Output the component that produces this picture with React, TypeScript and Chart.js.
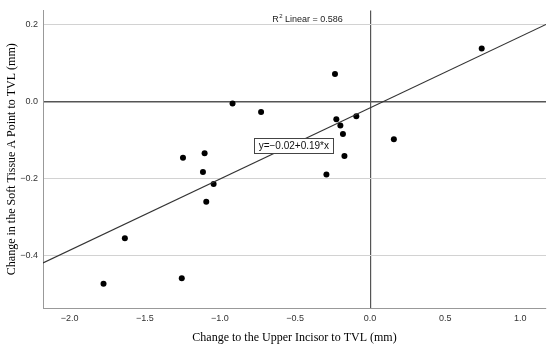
import React, { useEffect, useRef } from 'react';
import { Chart, registerables } from 'chart.js';

Chart.register(...registerables);

// Data
const pointX = [-1.775, -1.633, -1.254, -1.246, -1.102, -1.113, -1.091, -1.042, -0.916, -0.726, -0.291, -0.234, -0.225, -0.198, -0.181, -0.171, -0.092, 0.158, 0.743];
const pointY = [-0.473, -0.355, -0.459, -0.146, -0.134, -0.183, -0.260, -0.214, -0.005, -0.027, -0.189, 0.072, -0.046, -0.062, -0.084, -0.141, -0.038, -0.098, 0.138];
const fitIntercept = -0.016;
const fitSlope = 0.185;
const xTicks = [-2.0, -1.5, -1.0, -0.5, 0.0, 0.5, 1.0];
const yTicks = [-0.4, -0.2, 0.0, 0.2];
const xRange = [-2.178, 1.171];
const yRange = [-0.536, 0.237];
const xTitle = 'Change to the Upper Incisor to TVL (mm)';
const yTitle = 'Change in the Soft Tissue A Point to TVL (mm)';
const fitLabel = 'y=\u22120.02+0.19*x';
const r2Value = '0.586';
const r2LabelPos = { x: -0.652, y: 0.214 };
const fitLabelPos = { x: -0.508, y: -0.115 };

const fmt = (v: number) => v.toFixed(1).replace('-', '\u2212');

const annotationPlugin = {
  id: 'annots',
  afterDatasetsDraw(chart: any) {
    const { ctx, scales } = chart;
    const xs = scales.x;
    const ys = scales.y;
    ctx.save();
    // R² label
    let px = xs.getPixelForValue(r2LabelPos.x);
    const py = ys.getPixelForValue(r2LabelPos.y);
    ctx.fillStyle = '#222';
    ctx.textBaseline = 'middle';
    ctx.textAlign = 'left';
    ctx.font = '9px "Liberation Sans", Arial, sans-serif';
    ctx.fillText('R', px, py);
    px += ctx.measureText('R').width + 0.5;
    ctx.font = '6px "Liberation Sans", Arial, sans-serif';
    ctx.fillText('2', px, py - 3);
    px += ctx.measureText('2').width;
    ctx.font = '9px "Liberation Sans", Arial, sans-serif';
    ctx.fillText(' Linear = ' + r2Value, px, py);

    // Fit equation box
    const bx = xs.getPixelForValue(fitLabelPos.x);
    const by = ys.getPixelForValue(fitLabelPos.y);
    ctx.font = '10px "Liberation Sans", Arial, sans-serif';
    const w = ctx.measureText(fitLabel).width + 9;
    const h = 15;
    ctx.fillStyle = '#fff';
    ctx.fillRect(bx - w / 2, by - h / 2, w, h);
    ctx.strokeStyle = '#444';
    ctx.lineWidth = 1;
    ctx.strokeRect(Math.round(bx - w / 2) + 0.5, Math.round(by - h / 2) + 0.5, Math.round(w), h);
    ctx.fillStyle = '#111';
    ctx.textAlign = 'center';
    ctx.fillText(fitLabel, bx, by + 0.5);
    ctx.restore();
  },
};

export default function App() {
  const ref = useRef<HTMLCanvasElement | null>(null);
  useEffect(() => {
    if (!ref.current) return;
    const points = pointX.map((x, i) => ({ x, y: pointY[i] }));
    const fitLine = [xRange[0], xRange[1]].map((x) => ({ x, y: fitIntercept + fitSlope * x }));
    const tickFont = { family: '"Liberation Sans", Arial, sans-serif', size: 9 };
    const titleFont = { family: '"Liberation Serif", "Times New Roman", serif', size: 12 };
    const chart = new Chart(ref.current, {
      type: 'scatter',
      data: {
        datasets: [
          {
            data: fitLine,
            showLine: true,
            pointRadius: 0,
            borderColor: '#333',
            borderWidth: 1.1,
          } as any,
          {
            data: points,
            pointRadius: 3,
            pointBackgroundColor: '#000',
            pointBorderWidth: 0,
            borderColor: '#000',
          },
        ],
      },
      options: {
        animation: false,
        responsive: false,
        layout: { padding: { top: 5, right: 3, left: 0, bottom: 3 } },
        plugins: { legend: { display: false }, tooltip: { enabled: false } },
        scales: {
          x: {
            type: 'linear',
            min: xRange[0],
            max: xRange[1],
            afterFit: (s: any) => { s.height = 37; },
            afterBuildTicks: (s: any) => { s.ticks = xTicks.map((v) => ({ value: v })); },
            grid: {
              drawTicks: false,
              color: (c: any) => (c.tick && c.tick.value === 0 ? '#555' : 'rgba(0,0,0,0)'),
              lineWidth: 1.2,
            },
            border: { display: true, color: '#999', width: 1 },
            ticks: { font: tickFont, color: '#333', padding: 5, callback: (v: any) => fmt(Number(v)), maxRotation: 0 },
            title: { display: true, text: xTitle, font: titleFont, color: '#000', padding: { top: 1, bottom: 0 } },
          },
          y: {
            type: 'linear',
            min: yRange[0],
            max: yRange[1],
            afterFit: (s: any) => { s.width = 43; },
            afterBuildTicks: (s: any) => { s.ticks = yTicks.map((v) => ({ value: v })); },
            grid: {
              drawTicks: false,
              color: (c: any) => (c.tick && Math.abs(c.tick.value) < 1e-9 ? '#555' : '#d2d2d2'),
              lineWidth: (c: any) => (c.tick && Math.abs(c.tick.value) < 1e-9 ? 1.5 : 1),
            },
            border: { display: true, color: '#999', width: 1 },
            ticks: { font: tickFont, color: '#333', padding: 5, callback: (v: any) => fmt(Number(v)) },
            title: { display: true, text: yTitle, font: titleFont, color: '#000', padding: { top: 5, bottom: 0 } },
          },
        },
      },
      plugins: [annotationPlugin],
    });
    return () => chart.destroy();
  }, []);
  return (
    <div style={{ position: 'absolute', left: 0, top: 0, width: 550, height: 348, background: '#fff' }}>
      <canvas ref={ref} width={550} height={348} />
    </div>
  );
}
